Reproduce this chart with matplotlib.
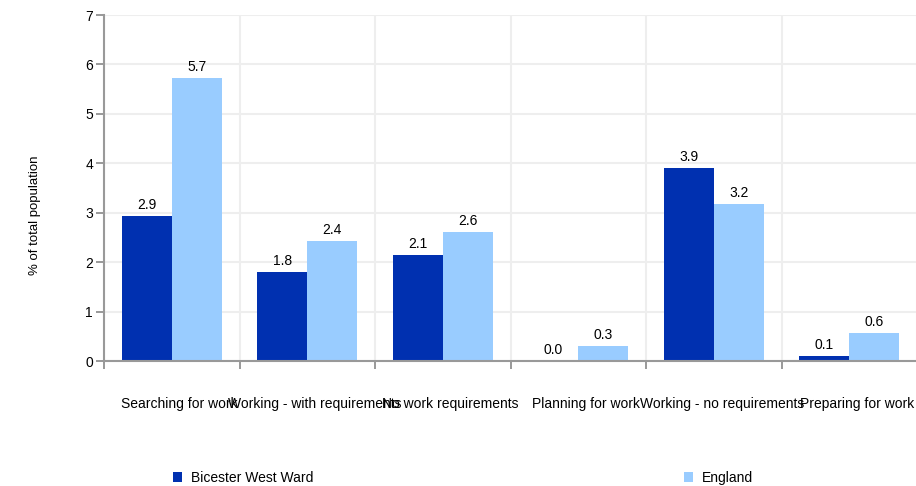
import numpy as np
import matplotlib
matplotlib.use("Agg")
import matplotlib.pyplot as plt
import matplotlib.transforms as mtransforms

categories = ["Searching for work", "Working - with requirements", "No work requirements",
              "Planning for work", "Working - no requirements", "Preparing for work"]
ward = [2.93, 1.80, 2.15, 0.0, 3.91, 0.10]
england = [5.73, 2.43, 2.61, 0.30, 3.18, 0.57]
series_names = ["Bicester West Ward", "England"]

plt.rcParams['font.family'] = ['Liberation Sans', 'DejaVu Sans']

fig = plt.figure(figsize=(9.16, 4.86), dpi=100)
ax = fig.add_axes([104/916, 125/486, 813/916, 346/486])

x = np.arange(len(categories))
w = 0.37
b1 = ax.bar(x - w/2, ward, w, color='#0030b0', zorder=2)
b2 = ax.bar(x + w/2, england, w, color='#99ccff', zorder=2)
ax.bar_label(b1, fmt='%.1f', padding=3, fontsize=10)
ax.bar_label(b2, fmt='%.1f', padding=3, fontsize=10)

ax.set_xlim(-0.5, len(categories) - 0.5)
ax.set_ylim(0, 7)
ax.set_yticks(range(0, 8))
ax.set_xticks(x)
ax.set_xticklabels(categories, fontsize=10)
ax.set_xticks(np.arange(-0.5, len(categories)), minor=True)
ax.tick_params(axis='x', which='major', length=0, pad=26)
ax.tick_params(axis='x', which='minor', length=6, color='#888888', width=1.2)
ax.tick_params(axis='y', length=6, color='#888888', width=1.2, labelsize=10, pad=2)

# labels in the reference sit a bit right of the category centres
shift = mtransforms.ScaledTranslation(8/100, 0, fig.dpi_scale_trans)
for lab in ax.get_xticklabels():
    lab.set_transform(lab.get_transform() + shift)

ax.grid(True, which='minor', axis='x', color='#eeeeee', lw=1.5, zorder=0)
ax.grid(True, which='major', axis='y', color='#eeeeee', lw=1.5, zorder=0)
for s in ['top', 'right']:
    ax.spines[s].set_visible(False)
for s in ['left', 'bottom']:
    ax.spines[s].set_color('#999999')
    ax.spines[s].set_linewidth(1.5)

fig.text(35/916, 1 - 215/486, "% of total population", rotation=90, fontsize=9.5,
         ha='center', va='center')

fig.legend([b1], [series_names[0]], loc='center left', bbox_to_anchor=(160/916, 1 - 478/486),
           frameon=False, fontsize=10, handlelength=0.7, handleheight=0.7, handletextpad=0.6)
fig.legend([b2], [series_names[1]], loc='center left', bbox_to_anchor=(671/916, 1 - 478/486),
           frameon=False, fontsize=10, handlelength=0.7, handleheight=0.7, handletextpad=0.6)

fig.savefig("out.png", dpi=100)
